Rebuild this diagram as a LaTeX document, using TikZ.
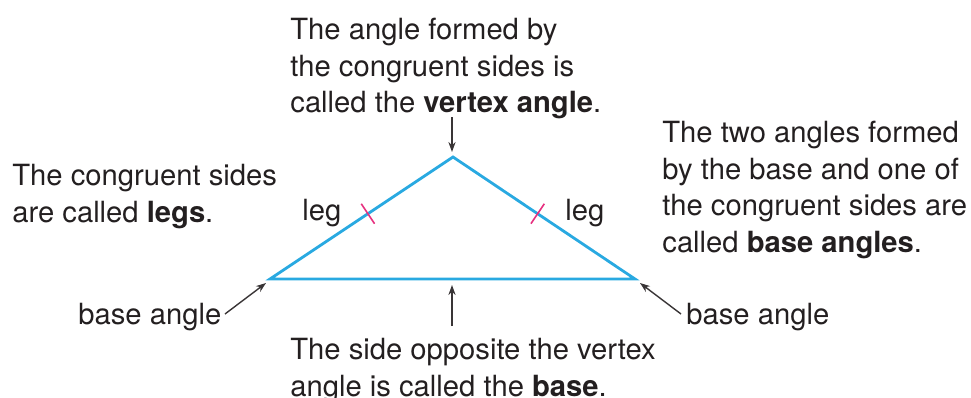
\documentclass[tikz,border=0pt]{standalone}
\usepackage{fontspec}
\setmainfont{TeX Gyre Heros}
\usetikzlibrary{arrows.meta,calc}
\definecolor{ink}{HTML}{231F20}
\definecolor{sky}{HTML}{29A9E1}
\definecolor{rose}{HTML}{E6307F}
\begin{document}
\begin{tikzpicture}[
    x=0.5pt, y=-0.5pt,
    note/.style={anchor=north west, inner sep=0pt, align=left, text=ink,
      font=\fontsize{14.6}{18.25}\selectfont},
    side/.style={draw=sky, line width=1.4pt, line join=miter},
    tick/.style={draw=rose, line width=0.8pt},
    pointer/.style={draw=ink!90, line width=0.7pt, -{Stealth[length=5pt,width=3.6pt]}},
  ]
  \useasboundingbox (0,0) rectangle (971,397);
  % triangle
  \coordinate (apex) at (453,157);
  \coordinate (bl) at (270,279);
  \coordinate (br) at (635,279);
  \draw[side] (apex) -- (bl) -- (br) -- cycle;
  % congruence marks
  \coordinate (ml) at ($(bl)!0.535!(apex)$);
  \coordinate (mr) at ($(br)!0.535!(apex)$);
  \draw[tick] ($(ml)!6pt!90:(apex)$) -- ($(ml)!6pt!-90:(apex)$);
  \draw[tick] ($(mr)!6pt!90:(apex)$) -- ($(mr)!6pt!-90:(apex)$);
  % texts
  \node[note] (vertextxt) at (290,18) {The angle formed by\\the congruent sides is\\called the \textbf{vertex angle}.};
  \node[note] (legstxt) at (12,164) {The congruent sides\\are called \textbf{legs}.};
  \node[note] (basangtxt) at (662,121) {The two angles formed\\by the base and one of\\the congruent sides are\\called \textbf{base angles}.};
  \node[note] (legl) at (302,199) {leg};
  \node[note] (legr) at (565,199) {leg};
  \node[note] (bal) at (78,303) {base angle};
  \node[note] (bar) at (686,303) {base angle};
  \node[note] (basetxt) at (290,338) {The side opposite the vertex\\angle is called the \textbf{base}.};
  % pointers
  \coordinate (vtail) at (452,117);
  \coordinate (vhead) at (452,152);
  \coordinate (btail) at (452,326);
  \coordinate (bhead) at (452,285);
  \coordinate (ltail) at (225,314);
  \coordinate (lhead) at (266,283);
  \coordinate (rtail) at (681,314);
  \coordinate (rhead) at (640,283);
  \draw[pointer] (vtail) -- (vhead);
  \draw[pointer] (btail) -- (bhead);
  \draw[pointer] (ltail) -- (lhead);
  \draw[pointer] (rtail) -- (rhead);
\end{tikzpicture}
\end{document}
